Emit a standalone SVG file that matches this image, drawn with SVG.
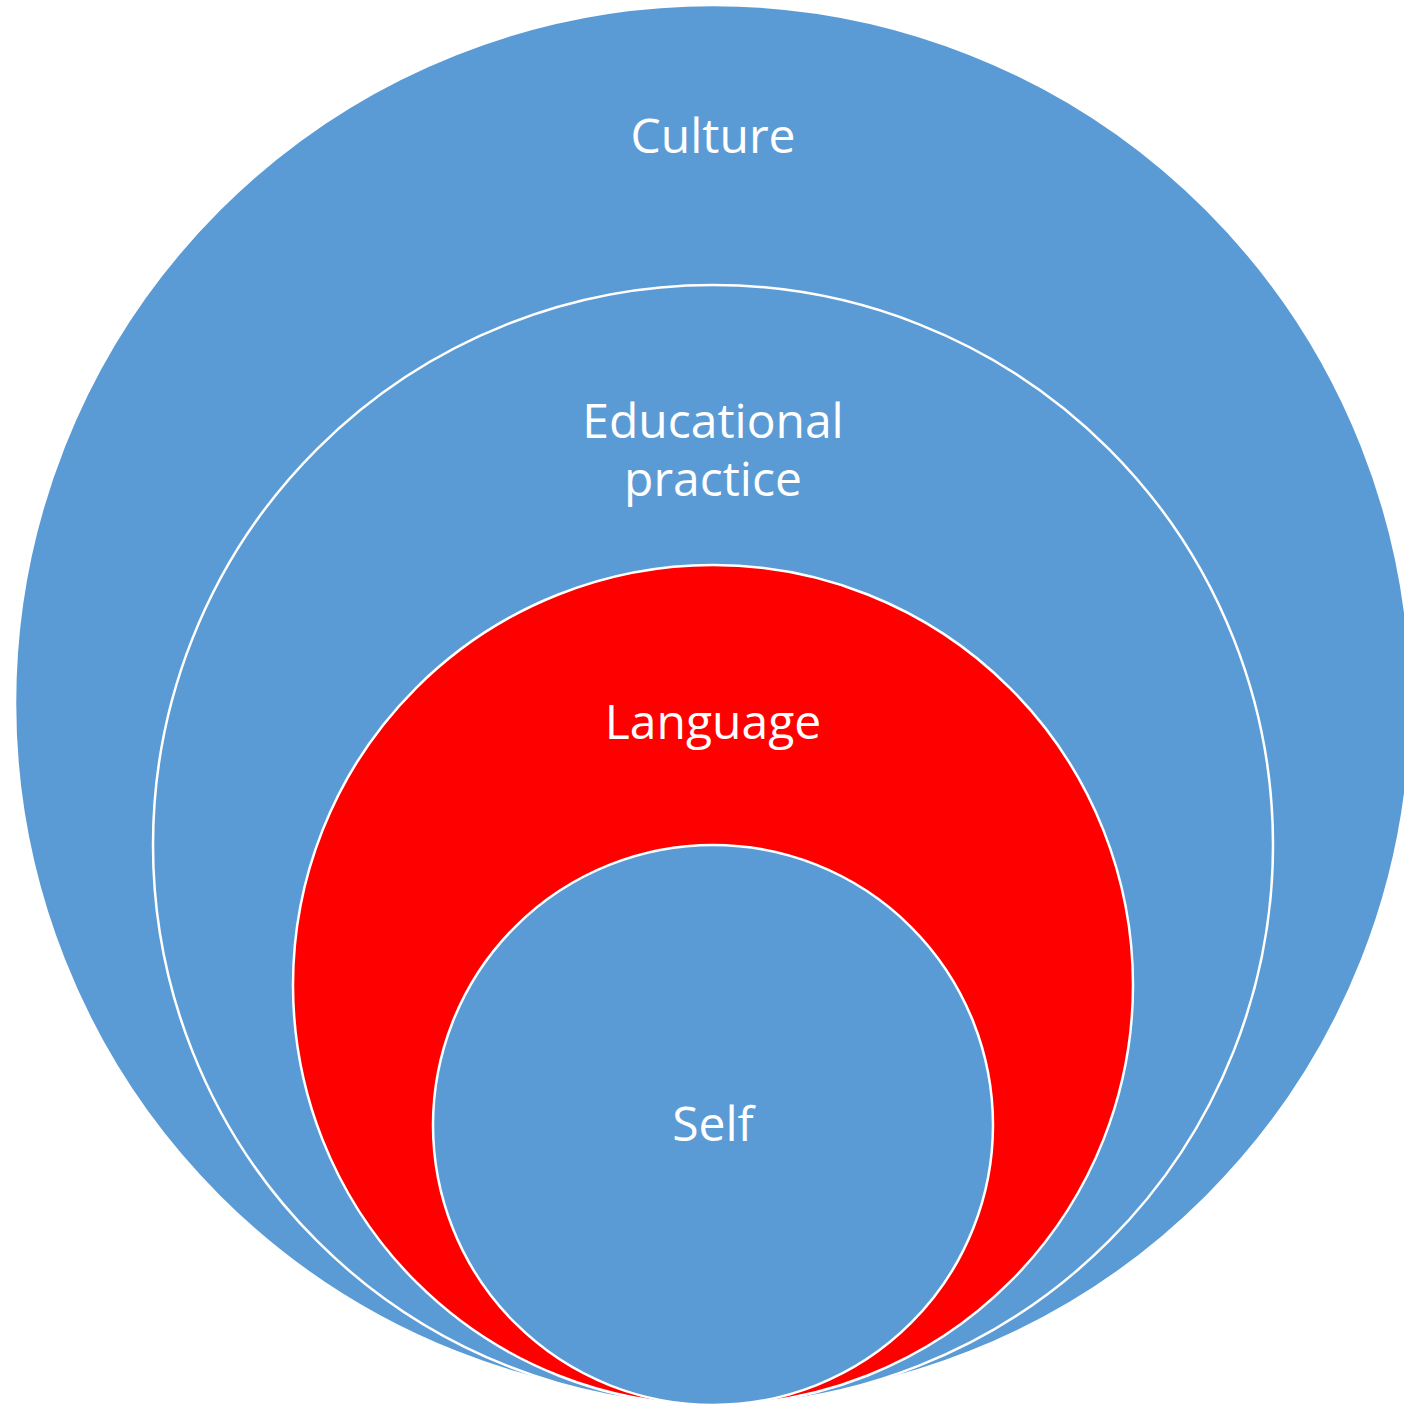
<svg xmlns="http://www.w3.org/2000/svg" width="1404" height="1404" viewBox="0 0 1404 1404">
<style>
.c{stroke:#FFFFFF;stroke-width:2.5}
.b{fill:#5B9BD5}
.r{fill:#FF0000}
text{font-family:"Open Sans","Liberation Sans",sans-serif;font-size:48px;fill:#FFFFFF;text-anchor:middle}
</style>
<rect width="1404" height="1404" fill="#FFFFFF"/>
<g id="culture">
<circle class="c b" cx="713" cy="703" r="698"/>
<text x="713" y="153">Culture</text>
</g>
<g id="educational-practice">
<circle class="c b" cx="713" cy="845" r="560"/>
<text x="713" y="438">Educational</text>
<text x="713" y="496">practice</text>
</g>
<g id="language">
<circle class="c r" cx="713" cy="985" r="420"/>
<text x="713" y="739">Language</text>
</g>
<g id="self">
<circle class="c b" cx="713" cy="1125" r="280"/>
<text x="713" y="1141">Self</text>
</g>
<g id="connectors"></g>
</svg>
